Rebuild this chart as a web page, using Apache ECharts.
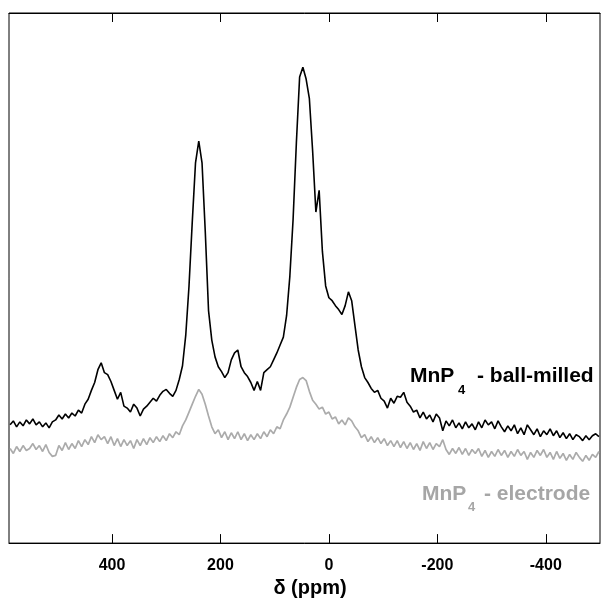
<!DOCTYPE html>
<html>
<head>
<meta charset="utf-8">
<script src="https://cdn.jsdelivr.net/npm/echarts@6/dist/echarts.min.js"></script>
<style>
  html, body { margin: 0; padding: 0; background: #ffffff; }
  #chart { width: 601px; height: 603px; }
</style>
</head>
<body>
<div id="chart"></div>
<script>
// Chemical shift grid (ppm)
const ppm = [
  588,582,576,570,564,558,552,546,540,534,
  528,522,516,510,504,498,492,486,480,474,
  468,462,456,450,444,438,432,426,420,414,
  408,402,396,390,384,378,372,366,360,354,
  348,342,336,330,324,318,312,306,300,294,
  288,282,276,270,264,258,252,246,240,234,
  228,222,216,210,204,198,192,186,180,174,
  168,162,156,150,144,138,132,126,120,114,
  108,102,96,90,84,78,72,66,60,54,
  48,42,36,30,24,18,12,6,0,-6,
  -12,-18,-24,-30,-36,-42,-48,-54,-60,-66,
  -72,-78,-84,-90,-96,-102,-108,-114,-120,-126,
  -132,-138,-144,-150,-156,-162,-168,-174,-180,-186,
  -192,-198,-204,-210,-216,-222,-228,-234,-240,-246,
  -252,-258,-264,-270,-276,-282,-288,-294,-300,-306,
  -312,-318,-324,-330,-336,-342,-348,-354,-360,-366,
  -372,-378,-384,-390,-396,-402,-408,-414,-420,-426,
  -432,-438,-444,-450,-456,-462,-468,-474,-480,-486,
  -492,-498
];

// MnP4 - ball-milled (intensity, a.u.)
const ballMilled = [
  24.0,24.8,23.6,24.6,23.8,25.0,24.2,25.2,24.0,24.6,
  23.6,24.4,23.4,24.6,25.0,26.0,25.2,26.2,25.4,26.4,
  25.8,27.0,26.4,28.2,29.2,31.0,32.6,35.2,36.6,34.6,
  34.2,32.8,31.0,29.2,30.6,27.8,27.4,26.6,28.2,27.4,
  25.8,27.2,27.8,28.6,29.4,28.8,30.0,30.8,31.2,30.4,
  29.8,31.0,33.2,36.0,42.2,52.2,65.2,77.2,81.6,77.2,
  63.2,47.2,41.2,37.8,35.8,34.8,33.6,34.6,37.2,38.6,
  39.2,35.8,34.6,33.8,32.6,31.0,32.8,31.0,34.6,35.2,
  35.8,37.2,38.6,40.2,41.8,46.2,54.2,65.8,81.2,94.6,
  96.6,94.2,90.2,79.6,67.2,71.6,59.2,52.2,49.8,49.2,
  48.2,47.4,46.4,48.2,51.0,49.2,44.2,39.2,35.8,33.6,
  32.6,31.4,30.6,31.0,29.4,28.8,27.4,29.4,28.4,29.8,
  29.6,30.6,28.6,27.8,26.6,27.0,25.4,26.6,25.2,26.0,
  24.6,26.2,25.4,22.8,24.8,23.8,25.0,23.4,24.4,23.2,
  24.6,23.4,24.2,23.0,24.6,23.4,25.0,24.0,24.6,23.2,
  24.8,23.6,22.6,23.8,22.8,24.0,22.2,23.4,22.0,24.0,
  23.0,22.0,23.2,21.6,22.8,22.0,23.2,21.8,22.8,21.4,
  22.4,21.2,22.2,21.0,22.0,21.6,20.8,21.8,21.0,21.8,
  22.2,21.6
];

// MnP4 - electrode (intensity, a.u.)
const electrode = [
  19.2,18.2,19.6,18.6,19.8,18.8,19.2,20.2,19.0,19.8,
  18.6,20.0,18.4,17.6,17.8,19.8,18.8,20.4,19.0,20.2,
  19.2,20.8,19.6,21.0,20.0,21.6,20.4,22.0,21.0,21.6,
  20.2,21.6,19.8,21.2,19.6,21.0,19.8,20.8,19.2,21.0,
  19.8,21.2,20.0,21.4,20.4,21.6,20.6,21.8,20.8,22.2,
  21.4,22.6,22.0,23.8,25.0,26.6,28.2,29.8,31.2,30.2,
  28.2,25.8,23.6,22.2,23.0,21.4,22.6,21.0,22.4,21.2,
  22.6,21.0,22.2,20.8,22.0,21.0,22.2,21.2,22.6,21.6,
  23.0,22.2,23.6,23.2,25.0,26.2,27.6,29.6,31.6,33.2,
  33.6,33.0,30.8,29.0,28.2,27.2,27.6,26.2,26.6,25.2,
  25.6,24.2,25.0,24.0,25.4,24.8,23.6,22.8,21.4,22.0,
  20.6,21.6,20.4,21.4,20.2,21.2,19.8,20.8,19.6,20.8,
  19.4,20.6,19.2,20.4,19.0,20.2,18.8,20.6,19.2,20.4,
  19.0,20.2,19.6,21.0,19.0,18.0,19.2,18.2,19.4,18.0,
  19.2,17.8,19.0,18.2,19.2,17.6,18.8,17.4,18.6,17.6,
  19.0,17.8,18.8,17.4,18.6,17.6,19.0,17.8,18.6,17.0,
  18.4,17.4,18.8,17.8,19.0,17.4,18.4,17.0,18.6,17.2,
  18.2,16.8,18.0,17.0,18.4,17.4,16.6,17.8,16.8,18.0,
  17.4,18.6
];

const tickValues = [400, 200, 0, -200, -400];
const xTitle = 'δ (ppm)';
const labelBall = ['MnP', '4', '- ball-milled'];
const labelElec = ['MnP', '4', '- electrode'];

function pairs(xs, ys) {
  const out = [];
  const n = Math.min(xs.length, ys.length);
  for (let i = 0; i < n; i++) out.push([xs[i], ys[i]]);
  return out;
}

const chart = echarts.init(document.getElementById('chart'), null, { renderer: 'canvas' });
const FONT = 'Liberation Sans, Arial, sans-serif';
const GRAY_TXT = '#a6a6a6';

const option = {
  animation: false,
  backgroundColor: '#ffffff',
  grid: {
    left: 9, right: 1, top: 13, bottom: 52,
    show: true, borderColor: '#000', borderWidth: 1
  },
  xAxis: [
    {
      type: 'value', inverse: true, min: -500, max: 590, position: 'bottom',
      splitLine: { show: false },
      axisLine: { show: true, onZero: false, lineStyle: { color: '#000', width: 1 } },
      axisTick: { show: true, inside: true, length: 9, customValues: tickValues, lineStyle: { color: '#000' } },
      axisLabel: {
        show: true, customValues: tickValues, margin: 14,
        color: '#000', fontFamily: FONT, fontWeight: 'bold', fontSize: 16
      },
      name: xTitle, nameLocation: 'middle', nameGap: 31,
      nameTextStyle: { color: '#000', fontFamily: FONT, fontWeight: 'bold', fontSize: 20, padding: [0, 0, 0, 11] }
    },
    {
      type: 'value', inverse: true, min: -500, max: 590, position: 'top',
      splitLine: { show: false },
      axisLine: { show: true, onZero: false, lineStyle: { color: '#000', width: 1 } },
      axisTick: { show: true, inside: true, length: 9, customValues: tickValues, lineStyle: { color: '#000' } },
      axisLabel: { show: false }
    }
  ],
  yAxis: {
    type: 'value', min: 0, max: 107.6,
    show: true,
    axisLine: { show: false },
    axisTick: { show: false }, axisLabel: { show: false }, splitLine: { show: false }
  },
  series: [
    {
      type: 'line', name: 'electrode', data: pairs(ppm, electrode),
      showSymbol: false, symbol: 'none',
      lineStyle: { color: '#ababab', width: 1.7 }, z: 2
    },
    {
      type: 'line', name: 'ball-milled', data: pairs(ppm, ballMilled),
      showSymbol: false, symbol: 'none',
      lineStyle: { color: '#000000', width: 1.6 }, z: 3
    }
  ],
  graphic: [
    { type: 'text', left: 410, top: 366, style: { text: labelBall[0], font: 'bold 21px ' + FONT, fill: '#000' } },
    { type: 'text', left: 458, top: 384, style: { text: labelBall[1], font: 'bold 13px ' + FONT, fill: '#000' } },
    { type: 'text', left: 477, top: 366, style: { text: labelBall[2], font: 'bold 21px ' + FONT, fill: '#000' } },
    { type: 'text', left: 422, top: 484, style: { text: labelElec[0], font: 'bold 21px ' + FONT, fill: GRAY_TXT } },
    { type: 'text', left: 468, top: 501, style: { text: labelElec[1], font: 'bold 13px ' + FONT, fill: GRAY_TXT } },
    { type: 'text', left: 484, top: 484, style: { text: labelElec[2], font: 'bold 21px ' + FONT, fill: GRAY_TXT } }
  ]
};
chart.setOption(option);
</script>
</body>
</html>
